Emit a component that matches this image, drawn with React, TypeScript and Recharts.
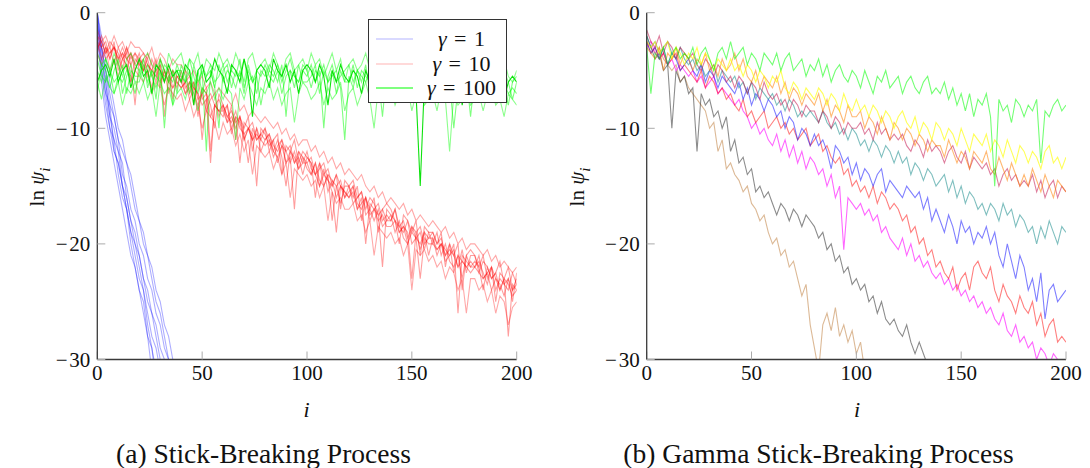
import React from 'react';
import { LineChart, Line, XAxis, YAxis, Legend } from 'recharts';

const X_TICKS = [0, 50, 100, 150, 200];
const Y_TICKS = [-30, -20, -10, 0];
const STEP = 2; // each value list is sampled every 2 steps of i, starting at i = 0

// ---------- (a) Stick-Breaking Process ----------
const SB_G1_A = [-1, -4, -6, -9, -11, -12, -15, -17, -19, -21, -23, -24, -27, -29, -32];
const SB_G1_B = [0, -3, -5, -7, -9, -11, -12, -13, -15, -17, -18, -20, -21, -23, -25, -26, -28, -30, -32];
const SB_G1_C = [-2, -5, -8, -10, -11, -14, -16, -17, -19, -20, -22, -24, -26, -28, -29, -31];
const SB_G1_D = [0, -2, -4, -6, -8, -10, -11, -13, -14, -16, -18, -19, -21, -22, -24, -25, -27, -28, -30, -31];
const SB_G1_E = [-1, -3, -6, -9, -10, -12, -13, -16, -18, -19, -21, -23, -25, -26, -28, -30, -32];
const SB_G1_F = [0, -3, -5, -8, -9, -11, -14, -15, -17, -18, -20, -21, -23, -24, -26, -27, -29, -30, -31, -33];
const SB_G1_G = [-1, -5, -7, -8, -12, -13, -15, -17, -20, -22, -24, -25, -28, -31];
const SB_G1_H = [-2, -6, -9, -11, -13, -15, -17, -19, -21, -22, -24, -26, -28, -29, -31];
const SB_G1_I = [0, -4, -7, -10, -12, -13, -15, -16, -18, -20, -21, -23, -24, -26, -27, -29, -30, -32];

const SB_G10_A = [
  -2, -3, -2.5, -4, -3, -3.5, -5, -3, -4, -3.5,
  -4, -5, -3.5, -4.5, -6, -4, -5, -7, -5, -5.5,
  -6, -5, -7, -6, -9, -6.5, -7, -8, -10, -7,
  -8, -9.5, -8, -11, -9, -10, -9, -12, -10, -11,
  -10, -12, -11, -10.5, -14, -11.5, -12, -11, -13, -12,
  -12.5, -13, -16, -13, -14, -13.5, -15, -14, -17, -14.5,
  -15, -16, -15, -18, -16, -17, -16, -19, -17, -16.5,
  -17, -18, -20, -17.5, -18, -19, -18, -21, -18.5, -19,
  -19, -20, -19, -22, -20, -21, -20, -24, -21, -20.5,
  -21, -22, -21, -23, -22, -25, -22.5, -23, -22, -24,
  -23,
];
const SB_G10_B = [
  -3, -2.5, -3.5, -3, -4.5, -3, -4, -3.5, -6, -4,
  -4.5, -4, -5, -6.5, -4.5, -5, -5.5, -5, -7.5, -5.5,
  -5.5, -7, -6, -6.5, -7, -11, -7.5, -7, -8, -8.5,
  -9, -8, -10, -9, -13, -9.5, -10, -11, -10, -12,
  -11, -10.5, -12, -11, -12.5, -15, -12, -13, -12, -12.5,
  -13, -14, -13, -14.5, -15, -14, -18, -15, -14.5, -16,
  -15.5, -15, -17, -16, -20, -16.5, -17, -16.5, -18, -17.5,
  -18, -17, -19, -18.5, -19, -23, -19, -18.5, -20, -19.5,
  -19.5, -21, -20, -20.5, -21, -20, -26, -21, -21.5, -22,
  -21.5, -22, -24, -22, -23, -22.5, -24, -23, -28, -23.5,
  -24,
];
const SB_G10_C = [
  -2.5, -4, -3, -3.5, -3, -4, -3.5, -5, -3.5, -4.5,
  -3.5, -5, -4.5, -5, -4, -6, -5, -6, -5.5, -6.5,
  -5, -6.5, -6, -8, -6, -7.5, -7, -9, -8, -7.5,
  -8.5, -8, -10.5, -9, -9.5, -11, -10, -10.5, -15, -10,
  -10.5, -11.5, -11, -13, -11.5, -12, -13, -12, -13.5, -13,
  -12, -13.5, -14, -13, -15, -14, -14.5, -16, -15, -15.5,
  -16, -15, -16.5, -17, -16, -18, -17, -17.5, -22, -17,
  -17.5, -18, -18.5, -19, -18, -20, -19.5, -19, -20.5, -19,
  -20, -19, -21, -20, -21.5, -22, -21, -23, -21, -22,
  -22, -21, -23, -22.5, -22, -24, -23, -23.5, -23, -25,
  -22.5,
];
const SB_G10_D = [
  -3.5, -2, -3, -4, -2.5, -5, -4, -3, -4.5, -8,
  -4, -3.5, -4.5, -5, -5.5, -4.5, -9, -5.5, -5, -6,
  -6.5, -6, -5.5, -7, -8, -7, -6.5, -12, -8, -8.5,
  -8, -9, -9.5, -8.5, -10, -10.5, -13, -10, -11, -10.5,
  -10, -11, -12.5, -11.5, -11, -13, -12.5, -17, -12, -13,
  -13, -12.5, -14, -15, -13.5, -15.5, -14.5, -15, -16.5, -15,
  -15, -16.5, -16, -15.5, -17.5, -17, -18, -17, -18.5, -18,
  -17.5, -19, -18, -19.5, -20, -18.5, -19.5, -20, -19, -21,
  -19.5, -20.5, -20, -21, -20, -22.5, -21, -21.5, -22, -21.5,
  -22, -21.5, -22.5, -23.5, -22, -23, -24, -23, -23.5, -24.5,
  -24,
];
const SB_G10_E = [
  -2, -2.5, -3.5, -2.5, -3, -4, -3, -4, -3.5, -5,
  -4, -4.5, -5.5, -4, -5, -4.5, -6, -5, -6.5, -5.5,
  -6, -7, -6.5, -6, -7.5, -7, -8.5, -7.5, -7, -9,
  -8, -9, -8.5, -9.5, -9, -11, -10, -9.5, -11, -10.5,
  -11, -10.5, -11.5, -12, -11, -12, -11.5, -13, -12.5, -14,
  -12.5, -13, -14, -13.5, -13, -14.5, -15, -14, -15, -16,
  -15, -14.5, -16, -15.5, -17, -16, -16.5, -17.5, -17, -18,
  -18, -17, -18.5, -18, -19.5, -18.5, -19, -20.5, -19, -19.5,
  -19, -20, -19.5, -21, -20.5, -21, -22, -20.5, -22.5, -21,
  -21, -22.5, -21.5, -22, -23, -22.5, -21.5, -23.5, -24, -22.5,
  -23.5,
];
const SB_G10_F = [
  -1.5, -2.5, -2, -3, -2, -3, -2.5, -3.5, -2.5, -3,
  -3, -3.5, -4, -3, -4.5, -3.5, -4, -5, -4, -4.5,
  -4.5, -5, -5.5, -5, -6, -5.5, -6.5, -6, -7, -6.5,
  -7, -7.5, -8, -7, -8.5, -8, -9, -8.5, -9, -9.5,
  -9, -9.5, -10, -9.5, -10.5, -10, -11, -10.5, -11.5, -11,
  -11, -12, -11.5, -12.5, -12, -13, -12.5, -13.5, -13, -14,
  -13.5, -14, -14.5, -14, -15, -15.5, -15, -16, -15.5, -16.5,
  -16, -16.5, -17, -16.5, -17.5, -17, -18, -17.5, -18, -18.5,
  -18, -18.5, -19, -18.5, -19.5, -19, -20, -19.5, -20.5, -20,
  -20, -20.5, -21, -20.5, -21.5, -21, -22, -21.5, -22, -22.5,
  -22,
];
const SB_G10_G = [
  -3.5, -4.5, -3, -5, -4, -5.5, -4, -4.5, -6, -5,
  -5.5, -6, -5, -7, -6, -6.5, -8, -6.5, -7, -7.5,
  -7, -8.5, -7.5, -9, -8, -10, -8.5, -9, -9.5, -11,
  -9.5, -10.5, -10, -11.5, -10.5, -12, -11, -14, -11.5, -12,
  -12.5, -12, -13.5, -12.5, -14, -13, -16, -13.5, -14, -14.5,
  -14, -15, -14.5, -16, -15, -18, -15.5, -16.5, -16, -17,
  -17, -16.5, -18, -17.5, -19, -18, -21, -18.5, -19, -19.5,
  -19, -20, -19.5, -21, -20, -24, -20.5, -21, -20.5, -21.5,
  -21, -22, -21.5, -23, -22, -22.5, -24, -23, -26, -23,
  -23, -24, -23.5, -25, -24, -26, -24.5, -25, -27, -25.5,
  -25,
];
const SB_G10_H = [
  -2.5, -3, -4, -3.5, -3, -4.5, -3.5, -4, -4.5, -3.5,
  -4.5, -5, -4, -5.5, -5, -6.5, -5, -6, -6.5, -6,
  -6.5, -6, -7.5, -6.5, -7, -8, -7.5, -13, -8, -8.5,
  -8.5, -9.5, -9, -10, -9, -10.5, -10, -11, -10.5, -11,
  -11.5, -11, -12, -12.5, -11.5, -13, -12, -12.5, -13.5, -12.5,
  -13.5, -14, -13, -15, -14, -14.5, -15.5, -19, -15, -15.5,
  -16, -15.5, -17, -16.5, -16, -17.5, -17, -18, -17.5, -18.5,
  -18.5, -18, -19, -18.5, -20, -19, -19.5, -23, -19.5, -20,
  -20, -20.5, -20, -21.5, -21, -20.5, -22, -21.5, -22, -22.5,
  -22, -22.5, -23, -22.5, -24, -23, -23.5, -24.5, -23, -24,
  -23.5,
];

const SB_G100_A = [
  -6, -5, -4.5, -5.5, -4, -6, -5, -4.5, -6.5, -5,
  -4, -5.5, -5, -7, -4.5, -5, -6, -4.5, -5.5, -5,
  -6, -4.5, -5, -8, -5, -4.5, -6, -5.5, -4, -5,
  -5.5, -7, -4.5, -5, -6, -4, -5.5, -9, -5, -4.5,
  -5, -6.5, -4, -5, -5.5, -4.5, -6, -5, -7, -5,
  -4.5, -5, -6, -4.5, -5.5, -8, -5, -6, -4.5, -5.5,
  -6, -5, -5.5, -7, -5, -6, -4.5, -6, -5.5, -6.5,
  -5, -6, -5.5, -4.5, -6.5, -5.5, -7, -15, -6, -5.5,
  -6, -5, -7, -5.5, -6, -6.5, -5, -8, -6, -5.5,
  -6.5, -5, -6, -7, -5.5, -6, -5, -7.5, -6, -5.5,
  -6,
];
const SB_G100_B = [
  -4, -5.5, -6, -5, -7, -5.5, -6, -5, -5.5, -7,
  -5, -6, -4.5, -5.5, -6.5, -5, -10, -5.5, -6, -4.5,
  -5.5, -6, -5, -6.5, -5, -7, -5.5, -4.5, -6, -5.5,
  -4.5, -6, -5, -5.5, -4, -6.5, -5, -6, -5.5, -8,
  -6, -5, -5.5, -4.5, -6, -5, -4, -5.5, -6, -5,
  -5.5, -4.5, -6, -5, -10, -5.5, -4.5, -6, -5.5, -5,
  -4.5, -6, -5, -5.5, -6, -5, -6.5, -5.5, -9, -5,
  -6, -5.5, -5, -6.5, -5.5, -6, -5, -6, -6.5, -5.5,
  -5.5, -7, -6, -5, -6, -10, -6.5, -5.5, -6, -7,
  -6, -5.5, -7, -6, -6.5, -5, -6, -6.5, -8, -6,
  -5.5,
];
const SB_G100_C = [
  -7, -4.5, -5, -6.5, -5, -4, -7, -5.5, -4.5, -6,
  -6, -4.5, -6, -5, -7.5, -4, -5, -6, -5, -7,
  -4.5, -5.5, -7, -4.5, -6, -5, -12, -5, -6.5, -4.5,
  -6, -5, -5.5, -6.5, -5, -7, -4.5, -6, -5, -5.5,
  -4.5, -5.5, -6, -5, -7, -5.5, -5, -6.5, -4.5, -6,
  -6, -5.5, -4.5, -7, -5, -6, -5.5, -5, -6.5, -11,
  -5.5, -6.5, -5, -6, -4.5, -7, -6, -5, -6.5, -5.5,
  -6.5, -5, -6, -5.5, -7, -6, -5.5, -6.5, -5, -7,
  -5, -6.5, -5.5, -7, -6, -5.5, -7, -6, -5.5, -9,
  -5.5, -7, -6, -5.5, -6.5, -7, -5.5, -6, -7, -6.5,
  -7,
];
const SB_G100_D = [
  -5, -6, -4, -5, -6, -5.5, -4.5, -7, -5, -5.5,
  -5.5, -4, -6.5, -5, -5.5, -6, -4.5, -5, -8, -5,
  -5, -6, -4, -5.5, -7, -4.5, -5.5, -5, -6.5, -10,
  -5, -4.5, -6.5, -5, -5.5, -4, -6, -5.5, -7, -5,
  -5.5, -4.5, -5, -6, -4.5, -9, -5, -5.5, -6, -4.5,
  -5, -6.5, -5, -5.5, -4.5, -6, -5, -7, -5, -6,
  -6, -4.5, -6.5, -5, -5.5, -6, -5, -7.5, -6, -5,
  -5.5, -6.5, -5, -6, -5.5, -6.5, -5, -6, -7, -5.5,
  -6.5, -5.5, -6, -5, -7, -6, -5.5, -6.5, -6, -5.5,
  -5, -6, -6.5, -5.5, -7, -6, -6.5, -5, -6, -7.5,
  -6,
];
const SB_G100_E = [
  -3.5, -4.5, -4, -5, -3.5, -4.5, -5.5, -4, -3.5, -4.5,
  -5, -4, -3.5, -4.5, -5, -4, -6, -3.5, -4.5, -4,
  -3.5, -5, -4, -4.5, -3.5, -5.5, -4, -4.5, -5, -3.5,
  -4.5, -4, -5, -3.5, -4.5, -6, -4, -3.5, -5, -4.5,
  -4, -5, -3.5, -4.5, -5.5, -4, -3.5, -5, -4.5, -4,
  -5, -3.5, -4.5, -4, -5.5, -4.5, -3.5, -5, -4, -6,
  -4.5, -4, -5, -4.5, -3.5, -5, -5.5, -4, -4.5, -5,
  -4, -5.5, -4.5, -5, -4, -6, -4.5, -5, -5.5, -4.5,
  -5, -4.5, -5.5, -4, -5, -6, -4.5, -5.5, -5, -4.5,
  -5.5, -4.5, -5, -6, -4.5, -5.5, -5, -4, -5.5, -6,
  -5,
];
const SB_G100_F = [
  -6, -7.5, -5.5, -6.5, -7, -6, -8, -6.5, -7, -6,
  -7, -6, -7.5, -6.5, -9, -6, -7, -6.5, -8, -7,
  -6.5, -7.5, -6, -7, -8.5, -6.5, -7, -6, -7.5, -6.5,
  -7.5, -6.5, -7, -11, -6.5, -7.5, -6, -7, -8, -6.5,
  -7, -6, -7.5, -6.5, -8, -7, -6.5, -9.5, -7, -6,
  -6.5, -7.5, -7, -6, -8, -6.5, -7.5, -7, -6, -8.5,
  -7, -6.5, -8, -7, -6, -7.5, -10, -6.5, -7, -7.5,
  -6.5, -8, -7, -7.5, -6.5, -8.5, -7, -6.5, -8, -7.5,
  -7, -8.5, -6.5, -7.5, -12, -7, -8, -7.5, -6.5, -8,
  -7.5, -7, -8.5, -7, -6.5, -8, -7.5, -9, -7, -7.5,
  -8,
];

// ---------- (b) Gamma Stick-Breaking Process ----------
const GSB_GREEN = [
  -3, -7, -3.5, -4, -3, -4.5, -3.5, -3, -4, -3.5,
  -4, -3, -4.5, -3.5, -3, -4, -5, -3.5, -3, -4,
  -2.5, -4, -3.5, -3, -4.5, -3.5, -4, -5, -3.5, -4,
  -4.5, -3.5, -5, -4, -3.5, -5, -4.5, -4, -5.5, -4.5,
  -5, -4, -5.5, -4.5, -6, -5, -4.5, -5.5, -6, -5,
  -5.5, -6.5, -5, -6, -7, -5.5, -6, -5, -6.5, -6,
  -5.5, -7, -6, -5.5, -6.5, -7, -6, -5.5, -7, -6.5,
  -7, -6, -7.5, -6.5, -8, -7, -8.5, -7, -9, -7.5,
  -8, -7, -9, -15, -7.5, -8.5, -8, -9.5, -7.5, -8,
  -9, -8, -8.5, -7.5, -13, -8.5, -9, -8, -7.5, -8.5,
  -8,
];
const GSB_YELLOW = [
  -2.5, -3, -2.5, -3.5, -3, -2.5, -4, -3, -3.5, -4.5,
  -3.5, -4, -3, -4.5, -3.5, -4, -5, -4, -4.5, -5,
  -4, -5, -4.5, -5.5, -4.5, -5, -6, -5, -5.5, -6.5,
  -5.5, -6, -5, -6.5, -7, -6, -6.5, -7.5, -6.5, -7,
  -7.5, -6.5, -7, -8, -7, -7.5, -8.5, -7, -8, -8.5,
  -7.5, -8.5, -8, -9, -8, -8.5, -9.5, -8.5, -9, -10,
  -9, -8.5, -9.5, -10, -9, -10.5, -9.5, -10, -11, -9.5,
  -10, -11, -10, -10.5, -11.5, -10, -11, -12, -10.5, -11,
  -11.5, -10.5, -12, -11, -11.5, -12.5, -11, -12, -13, -11.5,
  -12, -13, -12, -12.5, -13.5, -12, -11.5, -13, -12.5, -13.5,
  -12.5,
];
const GSB_ORANGE = [
  -3, -3.5, -4, -3, -5, -3.5, -4, -3, -4.5, -3.5,
  -4, -5, -4, -4.5, -3.5, -5, -4.5, -5.5, -4, -5,
  -4.5, -3.5, -5, -4, -5.5, -6, -5, -6.5, -5.5, -6,
  -6.5, -5.5, -7, -6, -7.5, -6.5, -7, -8, -7, -7.5,
  -8, -7, -8.5, -7.5, -9, -8, -8.5, -9.5, -8, -9,
  -9, -8.5, -10, -9, -9.5, -10.5, -9, -10, -11, -9.5,
  -10, -11, -10, -10.5, -11.5, -10.5, -11, -12, -11, -11.5,
  -11.5, -12.5, -11, -12, -13, -12, -12.5, -13.5, -12, -12.5,
  -13, -12, -13.5, -14, -12.5, -13.5, -14.5, -13, -14, -15,
  -14, -15, -13.5, -14.5, -15.5, -14, -15, -16, -14.5, -15,
  -15.5,
];
const GSB_PURPLE = [
  -1.5, -2.5, -3, -2, -3.5, -2.5, -3, -4, -3, -3.5,
  -4, -3.5, -4.5, -5, -4, -4.5, -5.5, -4.5, -5, -6,
  -5.5, -6.5, -5.5, -6, -7, -6, -6.5, -7.5, -6, -7,
  -7.5, -7, -8, -7.5, -8.5, -7.5, -8, -9, -8, -8.5,
  -8.5, -9.5, -8.5, -9, -10, -9, -9.5, -10.5, -9.5, -10,
  -10, -9.5, -10.5, -10, -11, -9.5, -10.5, -10, -11, -10.5,
  -11, -10.5, -11.5, -12, -11, -11.5, -12.5, -11, -12, -11.5,
  -12, -13, -12, -11.5, -12.5, -13, -12, -13.5, -12.5, -13,
  -13.5, -13, -14, -13.5, -15, -14, -13.5, -14.5, -14, -15,
  -14.5, -15, -14, -15.5, -14.5, -16, -15, -14.5, -16, -15,
  -15.5,
];
const GSB_TEAL = [
  -2, -3, -2.5, -3.5, -3, -2.5, -3.5, -4, -3, -4,
  -4.5, -4, -5, -4.5, -5.5, -5, -4.5, -6, -5, -5.5,
  -6, -5.5, -6.5, -6, -7, -6, -7.5, -6.5, -7, -7.5,
  -7, -8, -7.5, -8.5, -7.5, -8, -9, -8.5, -9, -8.5,
  -9, -9.5, -8.5, -9.5, -10, -9.5, -10.5, -10, -11, -10,
  -10.5, -11.5, -11, -12, -11, -11.5, -12.5, -11.5, -12, -13,
  -12, -13, -12.5, -14, -13, -13.5, -14.5, -13.5, -14, -15,
  -14.5, -14, -15.5, -14.5, -16, -15, -16.5, -15.5, -16, -17,
  -16.5, -17.5, -16.5, -17, -18, -16.5, -17.5, -17, -18.5, -17.5,
  -18, -19, -18.5, -20, -18.5, -19.5, -18, -19, -20, -18.5,
  -19,
];
const GSB_BLUE = [
  -2.5, -3.5, -3, -4, -3, -4.5, -3.5, -4, -5, -4.5,
  -4, -5, -5.5, -4.5, -6, -5, -5.5, -6.5, -5.5, -6,
  -6.5, -7, -6, -7.5, -6.5, -8, -7, -7.5, -8.5, -7.5,
  -8, -9, -8.5, -10, -9, -9.5, -11, -10, -10.5, -11.5,
  -10.5, -11.5, -11, -12, -13.5, -11.5, -12, -13, -12.5, -14,
  -13, -14.5, -13.5, -14, -15, -14, -13.5, -15.5, -14.5, -15,
  -15.5, -16, -15, -15.5, -16, -15.5, -17, -16, -18, -17,
  -18, -19, -17.5, -18.5, -20, -18, -19, -18.5, -20, -19,
  -19.5, -18.5, -20, -19, -21, -22, -20, -21.5, -23, -21,
  -22, -24, -23, -25, -22.5, -26.5, -24, -23.5, -25, -24.5,
  -24,
];
const GSB_RED = [
  -2.5, -3.5, -3, -4, -3.5, -4.5, -4, -3.5, -5, -4.5,
  -5, -5.5, -6, -5, -6.5, -5.5, -6, -7, -6.5, -7.5,
  -7, -8, -8.5, -7.5, -9, -8.5, -9.5, -9, -8.5, -10,
  -9.5, -9, -10, -9.5, -10.5, -10, -11, -10.5, -10, -11.5,
  -11, -10.5, -12, -11.5, -12.5, -13, -12.5, -14, -13.5, -15,
  -14.5, -15.5, -15, -16, -15, -16.5, -15.5, -16, -17, -16.5,
  -17, -18, -17.5, -19, -18.5, -20, -19.5, -21, -20.5, -22,
  -21.5, -22.5, -23, -22, -24, -23, -22.5, -24, -22, -21.5,
  -22.5, -23, -22, -24, -25, -23.5, -24.5, -25, -26, -24.5,
  -25.5, -26, -25, -27, -26, -28, -27, -26.5, -28.5, -28,
  -28.5,
];
const GSB_MAGENTA = [
  -3, -2.5, -3.5, -4, -3.5, -4.5, -4, -5, -4.5, -5,
  -5.5, -5, -6, -5.5, -6.5, -6, -5.5, -7, -6.5, -7,
  -7.5, -8, -7.5, -8.5, -9, -10, -9.5, -10.5, -10, -11,
  -11.5, -10.5, -12, -11, -12.5, -11.5, -13, -12, -13.5, -12.5,
  -13, -14, -13.5, -15, -14, -16, -15, -20.5, -16, -16.5,
  -17, -16.5, -17.5, -17, -18, -17.5, -19, -18.5, -19.5, -20,
  -20.5, -19.5, -21, -20, -21.5, -21, -22, -21.5, -22.5, -23,
  -22.5, -23.5, -23, -24, -23.5, -24.5, -24, -25, -24.5, -25.5,
  -25, -26, -25.5, -26.5, -27, -26, -27.5, -28, -27, -28.5,
  -28, -29, -28.5, -30, -29, -29.5, -30.5, -29.5, -30, -31,
  -30,
];
const GSB_GRAY = [
  -2, -3, -4, -3.5, -5, -4.5, -10, -5, -6, -5.5,
  -7, -6.5, -12, -7, -8, -7.5, -9, -8.5, -10, -9,
  -12, -11, -13, -12.5, -14, -13.5, -15.5, -15, -16, -15.5,
  -16.5, -17.5, -16.5, -17, -18, -17, -17.5, -18.5, -17.5, -18,
  -18.5, -19.5, -19, -20.5, -20, -21.5, -21, -22.5, -22, -23.5,
  -23, -24, -23.5, -25, -24.5, -26, -25, -26.5, -27, -26.5,
  -27.5, -28, -27, -28.5, -29.5, -28.5, -29.5, -30.5, -31,
];
const GSB_BROWN = [
  -2.5, -3, -3.5, -3, -4, -4.5, -5, -4.5, -6, -5.5,
  -6.5, -7, -7.5, -8, -8.5, -10, -9.5, -12, -11, -13.5,
  -13, -14, -14.5, -15.5, -15, -16.5, -17, -18, -17.5, -19,
  -20, -19.5, -21, -20.5, -22, -21.5, -23, -24.5, -23.5, -27,
  -29, -31, -27, -26, -27.5, -25.5, -28, -27, -28.5, -27.5,
  -29.5, -28.5, -31,
];

const PANEL_A = [
  { values: SB_G1_A, color: '#0000ff', opacity: 0.32 },
  { values: SB_G1_B, color: '#0000ff', opacity: 0.32 },
  { values: SB_G1_C, color: '#0000ff', opacity: 0.32 },
  { values: SB_G1_D, color: '#0000ff', opacity: 0.32 },
  { values: SB_G1_E, color: '#0000ff', opacity: 0.32 },
  { values: SB_G1_F, color: '#0000ff', opacity: 0.32 },
  { values: SB_G1_G, color: '#0000ff', opacity: 0.32 },
  { values: SB_G1_H, color: '#0000ff', opacity: 0.32 },
  { values: SB_G1_I, color: '#0000ff', opacity: 0.32 },
  { values: SB_G10_A, color: '#ff0000', opacity: 0.38 },
  { values: SB_G10_B, color: '#ff0000', opacity: 0.38 },
  { values: SB_G10_C, color: '#ff0000', opacity: 0.38 },
  { values: SB_G10_D, color: '#ff0000', opacity: 0.38 },
  { values: SB_G10_E, color: '#ff0000', opacity: 0.38 },
  { values: SB_G10_F, color: '#ff0000', opacity: 0.34 },
  { values: SB_G10_G, color: '#ff0000', opacity: 0.34 },
  { values: SB_G10_H, color: '#ff0000', opacity: 0.38 },
  { values: SB_G100_B, color: '#00ff00', opacity: 0.5 },
  { values: SB_G100_C, color: '#00ff00', opacity: 0.5 },
  { values: SB_G100_D, color: '#00ff00', opacity: 0.5 },
  { values: SB_G100_E, color: '#00ff00', opacity: 0.45 },
  { values: SB_G100_F, color: '#00ff00', opacity: 0.45 },
  { values: SB_G100_A, color: '#00e000', opacity: 0.95 },
];

const PANEL_B = [
  { values: GSB_BROWN, color: '#bf8040', opacity: 0.55 },
  { values: GSB_GRAY, color: '#404040', opacity: 0.6 },
  { values: GSB_MAGENTA, color: '#ff00ff', opacity: 0.6 },
  { values: GSB_RED, color: '#ff0000', opacity: 0.5 },
  { values: GSB_BLUE, color: '#0000ff', opacity: 0.5 },
  { values: GSB_TEAL, color: '#008080', opacity: 0.5 },
  { values: GSB_PURPLE, color: '#bf0040', opacity: 0.5 },
  { values: GSB_ORANGE, color: '#ff8000', opacity: 0.55 },
  { values: GSB_YELLOW, color: '#ffff00', opacity: 0.65 },
  { values: GSB_GREEN, color: '#00ff00', opacity: 0.55 },
];

const LEGEND_ITEMS = [
  { label: '1', color: '#0000ff', opacity: 0.3 },
  { label: '10', color: '#ff0000', opacity: 0.3 },
  { label: '100', color: '#00ff00', opacity: 1 },
];

const FONT = '"Liberation Serif", "Times New Roman", serif';

const fmtY = (v: number) => (v < 0 ? '\u2212\u200a' + Math.abs(v) : String(v));
const toPoints = (vals: number[]) => vals.map((v, k) => ({ i: k * STEP, v }));

const axisLine = { stroke: '#3a3a3a', strokeWidth: 1.3 };
const tickLine = { stroke: '#aaaaaa', strokeWidth: 1 };
const tickText = { fill: '#111', fontSize: 21, fontFamily: FONT };

function LegendBox() {
  return (
    <div
      style={{
        border: '1px solid #333',
        background: '#fff',
        width: 139,
        height: 84,
        boxSizing: 'border-box',
        paddingTop: 7,
        fontFamily: FONT,
        fontSize: 22,
      }}
    >
      {LEGEND_ITEMS.map((it) => (
        <div key={it.label} style={{ display: 'flex', alignItems: 'center', height: 24.5 }}>
          <svg width={46} height={10} style={{ marginLeft: 6, flex: 'none' }}>
            <line x1={1} y1={5} x2={38} y2={5} stroke={it.color} strokeOpacity={it.opacity} strokeWidth={1.2} />
          </svg>
          <span style={{ flex: 1, textAlign: 'center', color: '#111', whiteSpace: 'nowrap', paddingRight: 4 }}>
            <i>γ</i>{'\u2004=\u2004'}{it.label}
          </span>
        </div>
      ))}
    </div>
  );
}

function Panel({
  series,
  yAxisWidth,
  marginRight,
  withLegend,
}: {
  series: { values: number[]; color: string; opacity: number }[];
  yAxisWidth: number;
  marginRight: number;
  withLegend?: boolean;
}) {
  return (
    <LineChart width={545} height={468} margin={{ top: 12.7, right: marginRight, bottom: 78.5, left: 0 }}>
      <XAxis
        xAxisId="b"
        dataKey="i"
        type="number"
        domain={[0, 200]}
        ticks={X_TICKS}
        interval={0}
        allowDataOverflow
        tickSize={-8}
        tickMargin={13.5}
        height={30}
        tick={tickText}
        tickLine={tickLine}
        axisLine={axisLine}
      />
      <XAxis
        xAxisId="t"
        orientation="top"
        dataKey="i"
        type="number"
        domain={[0, 200]}
        ticks={X_TICKS}
        interval={0}
        allowDataOverflow
        tickSize={-8}
        height={0}
        tickFormatter={() => ''}
        tickLine={tickLine}
        axisLine={axisLine}
      />
      <YAxis
        yAxisId="l"
        type="number"
        domain={[-30, 0]}
        ticks={Y_TICKS}
        interval={0}
        allowDataOverflow
        tickSize={-8}
        tickMargin={15}
        width={yAxisWidth}
        tickFormatter={fmtY}
        tick={tickText}
        tickLine={tickLine}
        axisLine={axisLine}
      />
      <YAxis
        yAxisId="r"
        orientation="right"
        type="number"
        domain={[-30, 0]}
        ticks={Y_TICKS}
        interval={0}
        allowDataOverflow
        tickSize={-8}
        width={0}
        tickFormatter={() => ''}
        tickLine={tickLine}
        axisLine={axisLine}
      />
      {series.map((s, k) => (
        <Line
          key={k}
          xAxisId="b"
          yAxisId="l"
          data={toPoints(s.values)}
          dataKey="v"
          type="linear"
          stroke={s.color}
          strokeOpacity={s.opacity}
          strokeWidth={1.1}
          dot={false}
          activeDot={false}
          isAnimationActive={false}
          legendType="none"
        />
      ))}
      {withLegend && (
        <Legend
          layout="vertical"
          align="center"
          verticalAlign="middle"
          content={() => <LegendBox />}
          wrapperStyle={{ left: 368, top: 19, width: 139, height: 84, position: 'absolute' }}
        />
      )}
    </LineChart>
  );
}

function YLabel({ cx }: { cx: number }) {
  return (
    <div
      style={{
        position: 'absolute',
        left: cx,
        top: 187,
        transform: 'translate(-50%, -50%) rotate(-90deg)',
        whiteSpace: 'nowrap',
        fontSize: 21,
        fontFamily: FONT,
        color: '#111',
        lineHeight: 1,
      }}
    >
      ln <i>ψ</i>
      <sub style={{ fontSize: 15 }}>
        <i>i</i>
      </sub>
    </div>
  );
}

function Centered({ cx, cy, size, children }: { cx: number; cy: number; size: number; children: React.ReactNode }) {
  return (
    <div
      style={{
        position: 'absolute',
        left: cx,
        top: cy,
        transform: 'translate(-50%, -50%)',
        whiteSpace: 'nowrap',
        fontSize: size,
        fontFamily: FONT,
        color: '#111',
        lineHeight: 1,
      }}
    >
      {children}
    </div>
  );
}

export default function App() {
  return (
    <div style={{ position: 'absolute', left: 0, top: 0, width: 1090, height: 468, background: '#fff', overflow: 'hidden' }}>
      <div style={{ position: 'absolute', left: 0, top: 0 }}>
        <Panel series={PANEL_A} yAxisWidth={97.3} marginRight={28.3} withLegend />
      </div>
      <div style={{ position: 'absolute', left: 545, top: 0 }}>
        <Panel series={PANEL_B} yAxisWidth={101.7} marginRight={24} />
      </div>
      <YLabel cx={40} />
      <YLabel cx={580} />
      <Centered cx={306.5} cy={410} size={22}>
        <i>i</i>
      </Centered>
      <Centered cx={857} cy={410} size={22}>
        <i>i</i>
      </Centered>
      <Centered cx={263.5} cy={454} size={27.5}>
        (a) Stick-Breaking Process
      </Centered>
      <Centered cx={818.5} cy={454} size={27.5}>
        (b) Gamma Stick-Breaking Process
      </Centered>
    </div>
  );
}
